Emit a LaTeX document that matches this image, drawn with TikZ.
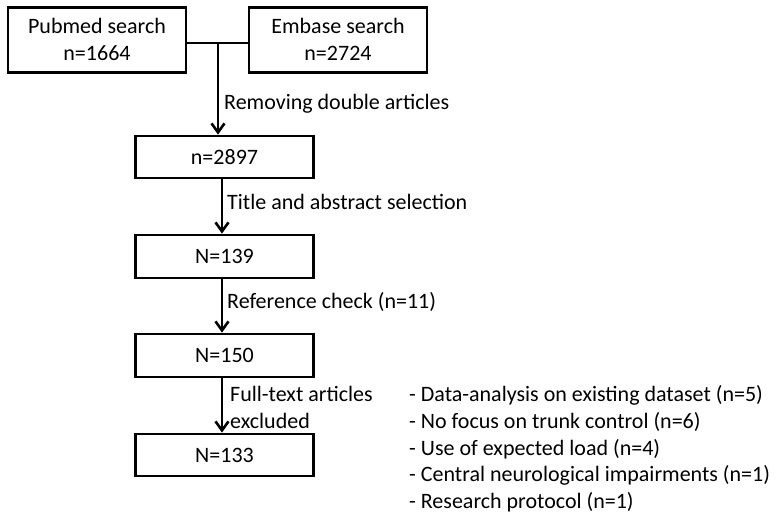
\documentclass[tikz,border=0pt]{standalone}
\usepackage{fontspec}
\setmainfont{Carlito}
\usetikzlibrary{arrows.meta}
\begin{document}
\begin{tikzpicture}[x=1pt,y=-1pt,
  every node/.style={font=\fontsize{22}{27}\selectfont},
  box/.style={draw, line width=2.8pt, minimum width=178pt, inner sep=0pt, align=center},
  lbl/.style={anchor=base west, inner sep=0pt},
  conn/.style={line width=2.8pt},
  arr/.style={line width=2.8pt, -{Straight Barb[length=9pt,width=13pt,line width=2.6pt]}}]
\useasboundingbox (0,0) rectangle (782,516);
\node[box, minimum height=65pt] (pub) at (97,39.7) {Pubmed search\\n=1664};
\node[box, minimum height=65pt] (emb) at (338,39.7) {Embase search\\n=2724};
\node[box, minimum height=42pt] (n2897) at (224.5,157) {n=2897};
\node[box, minimum height=43pt] (n139) at (224.5,256.5) {N=139};
\node[box, minimum height=43pt] (n150) at (224.5,355.5) {N=150};
\node[box, minimum height=42pt] (n133) at (224.5,455) {N=133};
\coordinate (j) at (218,43);
\draw[conn] ([yshift=-3.3pt]pub.east) -- ([yshift=-3.3pt]emb.west);
\draw[arr] (j) -- (j |- n2897.north);
\draw[arr] ([xshift=-2.5pt]n2897.south) -- ([xshift=-2.5pt]n139.north);
\draw[arr] ([xshift=-2.5pt]n139.south) -- ([xshift=-2.5pt]n150.north);
\draw[arr] ([xshift=-2.5pt]n150.south) -- ([xshift=-2.5pt]n133.north);
\node[lbl] (l1) at (224,110) {Removing double articles};
\node[lbl] (l2) at (227,209.3) {Title and abstract selection};
\node[lbl] (l3) at (227,308.3) {Reference check (n=11)};
\node[lbl] (l4) at (230,401.7) {Full-text articles};
\node[lbl] (l5) at (230,428.3) {excluded};
\node[lbl] (e1) at (409,401.7) {- Data-analysis on existing dataset (n=5)};
\node[lbl] (e2) at (409,428.3) {- No focus on trunk control (n=6)};
\node[lbl] (e3) at (409,455) {- Use of expected load (n=4)};
\node[lbl] (e4) at (409,481.7) {- Central neurological impairments (n=1)};
\node[lbl] (e5) at (409,508.3) {- Research protocol (n=1)};
\end{tikzpicture}
\end{document}
